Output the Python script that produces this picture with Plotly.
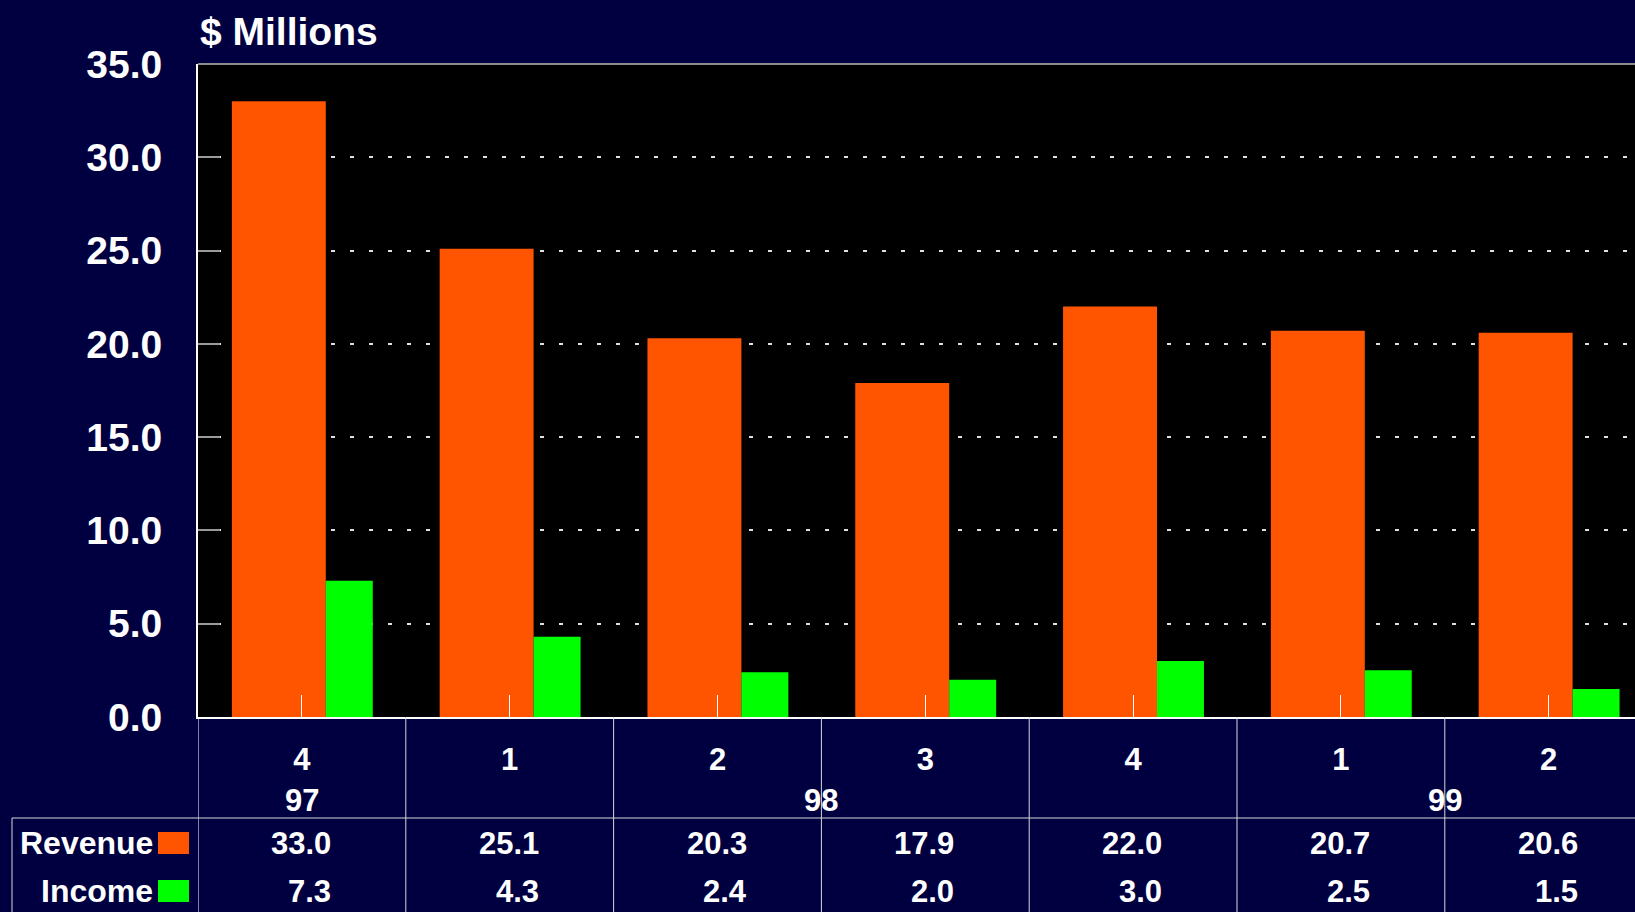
import plotly.graph_objects as go

# Chart data (quarterly results, $ millions)
quarters = ["4", "1", "2", "3", "4", "1", "2"]
years = ["97", "98", "98", "98", "98", "99", "99"]
revenue = [33.0, 25.1, 20.3, 17.9, 22.0, 20.7, 20.6]
income = [7.3, 4.3, 2.4, 2.0, 3.0, 2.5, 1.5]
y_ticks = [0, 5, 10, 15, 20, 25, 30, 35]

# Colours
navy = "#000040"
orange = "#FF5500"
green = "#00FF00"
line_col = "#D8D8D8"
font_family = "Liberation Sans, Arial, sans-serif"

# Canvas and plot-area geometry (pixels)
W, H = 1635, 912
L, T, B = 198, 64, 195
plot_w = W - L
plot_h = H - T - B
cat_px = 207.8   # width of one category in pixels


def px(xp):
    # pixel x -> paper x
    return (xp - L) / plot_w


def py(yp):
    # pixel y -> paper y
    return (H - B - yp) / plot_h


xs = list(range(len(quarters)))

fig = go.Figure()

fig.add_trace(go.Bar(
    x=xs, y=revenue, name="Revenue",
    marker=dict(color=orange, line=dict(width=0)),
    width=0.452, offset=-0.337,
))
fig.add_trace(go.Bar(
    x=xs, y=income, name="Income",
    marker=dict(color=green, line=dict(width=0)),
    width=0.226, offset=0.115,
))

annotations = []
shapes = []

# Top border of the plot area (gray, under the dotted grid)
shapes.append(dict(type="line", xref="paper", yref="paper", x0=0, x1=1, y0=1, y1=1,
                   line=dict(color="#8C8C8C", width=2), layer="below"))

# Vertical dividers of the data table, one at every category boundary
for i in range(len(quarters) + 1):
    shapes.append(dict(type="line", xref="x", yref="paper",
                       x0=i - 0.5, x1=i - 0.5, y0=0, y1=py(H),
                       line=dict(color=line_col if i else "white", width=1)))

# Horizontal divider above the data rows and left border of the legend column
shapes.append(dict(type="line", xref="paper", yref="paper",
                   x0=px(12), x1=1, y0=py(818), y1=py(818),
                   line=dict(color=line_col, width=1)))
shapes.append(dict(type="line", xref="paper", yref="paper",
                   x0=px(12), x1=px(12), y0=py(818), y1=py(H),
                   line=dict(color=line_col, width=1)))

# Year labels centred under their runs of quarters
runs = []
for i, yr in enumerate(years):
    if runs and runs[-1][0] == yr:
        runs[-1][1].append(i)
    else:
        runs.append((yr, [i]))
for yr, idx in runs:
    annotations.append(dict(x=sum(idx) / len(idx), xref="x", y=py(800), yref="paper",
                            text=yr, showarrow=False, xanchor="center", yanchor="middle",
                            font=dict(size=31, color="white", family=font_family, weight="bold")))

# Data table rows with legend keys
rows = [("Revenue", revenue, orange, 843), ("Income", income, green, 891)]
for label, vals, col, yc in rows:
    annotations.append(dict(x=px(155), xref="paper", y=py(yc), yref="paper",
                            text=label, showarrow=False, xanchor="right", yanchor="middle",
                            font=dict(size=32, color="white", family=font_family, weight="bold")))
    shapes.append(dict(type="rect", xref="paper", yref="paper",
                       x0=px(158), x1=px(189), y0=py(yc - 11), y1=py(yc + 11),
                       fillcolor=col, line=dict(width=0)))
    for i, v in enumerate(vals):
        annotations.append(dict(x=i + 0.15, xref="x", y=py(yc), yref="paper",
                                text=f"{v:.1f}", showarrow=False, xanchor="right", yanchor="middle",
                                font=dict(size=31, color="white", family=font_family, weight="bold")))

# Title
annotations.append(dict(x=0, xref="paper", y=py(31), yref="paper",
                        text="$ Millions", showarrow=False, xanchor="left", yanchor="middle",
                        font=dict(size=39, color="white", family=font_family, weight="bold")))

fig.update_layout(
    width=W, height=H,
    margin=dict(l=L, r=0, t=T, b=B, pad=0),
    paper_bgcolor=navy,
    plot_bgcolor="black",
    barmode="overlay",
    showlegend=False,
    annotations=annotations,
    shapes=shapes,
    font=dict(family=font_family, color="white"),
)

fig.update_xaxes(
    range=[-0.5, -0.5 + plot_w / cat_px],
    tickvals=xs, ticktext=quarters,
    ticks="inside", ticklen=22, tickcolor="white", tickwidth=1,
    tickfont=dict(size=31, color="white", family=font_family, weight="bold"),
    ticklabelstandoff=14,
    showline=True, linecolor="white", linewidth=2,
    showgrid=False, zeroline=False,
)

fig.update_yaxes(
    range=[0, 35],
    tickvals=y_ticks, ticktext=[f"{v:.1f}" for v in y_ticks],
    ticks="inside", ticklen=22, tickcolor="#9A9A9A", tickwidth=2,
    tickfont=dict(size=39, color="white", family=font_family, weight="bold"),
    ticklabelstandoff=26,
    showline=True, linecolor="white", linewidth=2,
    showgrid=True, gridcolor="#E0E0E0", gridwidth=1.5, griddash="4px,15px",
    zeroline=False,
)

# Drop the page's default body margin so the chart sits at the window's corner
fig.write_html("out.html", config={"displayModeBar": False},
               post_script="document.body.style.margin='0';")
